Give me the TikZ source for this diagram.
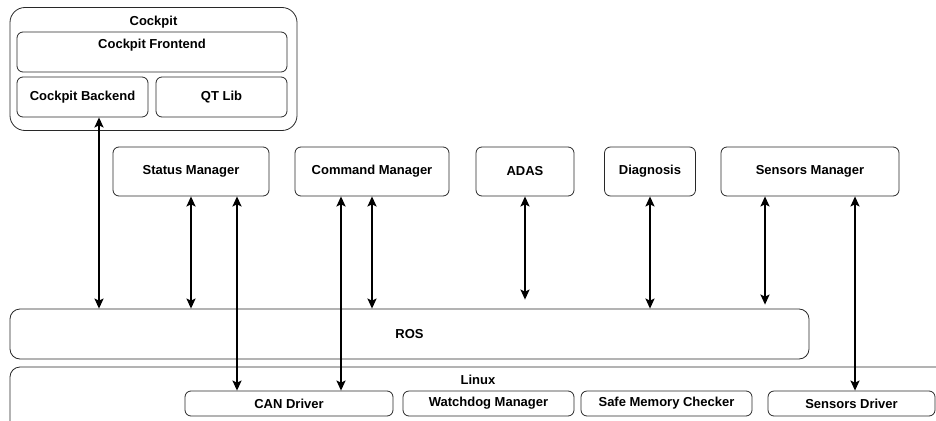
\documentclass[tikz,border=0pt]{standalone}
\usepackage{fontspec}
\setmainfont{Liberation Sans}
\usetikzlibrary{arrows.meta, positioning, calc}
\definecolor{boxline}{RGB}{40, 40, 40}

\begin{document}
\begin{tikzpicture}[x=1pt, y=-1pt,
  box/.style={draw=boxline, line width=0.8pt, rounded corners=6pt, inner sep=0pt, align=center, font=\bfseries\fontsize{13}{15}\selectfont},
  title/.style={font=\bfseries\fontsize{13}{15}\selectfont, inner sep=0pt, anchor=center},
  link/.style={{Stealth[length=10pt, width=9pt, inset=2pt]}-{Stealth[length=10pt, width=9pt, inset=2pt]}, line width=1.7pt}
]
  \useasboundingbox (0, 0) rectangle (936, 420);
  \clip (0, 0) rectangle (936, 420);

  % Cockpit
  \node[box, rounded corners=15pt, minimum width=287, minimum height=123,
        label={[title, yshift=-15pt]north:Cockpit}] (cockpit) at (153.5, 69) {};
  \node[box, minimum width=270, minimum height=40,
        label={[title, yshift=-14pt]north:Cockpit Frontend}] (frontend) at (152, 52) {};
  \node[box, minimum width=131, minimum height=40] (backend) at (82.5, 97) {Cockpit Backend};
  \node[box, minimum width=131, minimum height=40] (qtlib) at (221.5, 97) {QT Lib};

  % Managers
  \node[box, minimum width=156, minimum height=49] (status) at (191, 171.5) {Status Manager};
  \node[box, minimum width=154, minimum height=49] (command) at (372, 171.5) {Command Manager};
  \node[box, minimum width=98, minimum height=49] (adas) at (525, 171.5) {ADAS};
  \node[box, minimum width=91, minimum height=49] (diagnosis) at (650, 171.5) {Diagnosis};
  \node[box, minimum width=178, minimum height=49] (sensmgr) at (810, 171.5) {Sensors Manager};

  % ROS
  \node[box, rounded corners=10pt, minimum width=799, minimum height=50] (ros) at (409.5, 334) {ROS};

  % Linux and drivers
  \node[box, rounded corners=10pt, minimum width=936, minimum height=80,
        label={[title, yshift=-13pt]north:Linux}] (linux) at (478, 407) {};
  \node[box, minimum width=208, minimum height=25] (can) at (289, 403.5) {CAN Driver};
  \node[box, minimum width=171, minimum height=25] (watchdog) at (488.5, 403.5) {Watchdog Manager};
  \node[box, minimum width=171, minimum height=25] (safemem) at (666.5, 403.5) {Safe Memory Checker};
  \node[box, minimum width=167, minimum height=25] (sensdrv) at (851.5, 403.5) {Sensors Driver};

  % Links
  \draw[link] ([xshift=16.5]backend.south) -- ([xshift=16.5]backend.south |- ros.north);
  \draw[link] (status.south) -- (status.south |- ros.north);
  \draw[link] ([xshift=46]status.south) -- ([xshift=46]status.south |- can.north);
  \draw[link] ([xshift=-31]command.south) -- ([xshift=-31]command.south |- can.north);
  \draw[link] (command.south) -- (command.south |- ros.north);
  \draw[link] (adas.south) -- ([yshift=9]adas.south |- ros.north);
  \draw[link] (diagnosis.south) -- (diagnosis.south |- ros.north);
  \draw[link] ([xshift=-45]sensmgr.south) -- ([xshift=-45, yshift=4]sensmgr.south |- ros.north);
  \draw[link] ([xshift=45]sensmgr.south) -- ([xshift=45]sensmgr.south |- sensdrv.north);
\end{tikzpicture}
\end{document}
